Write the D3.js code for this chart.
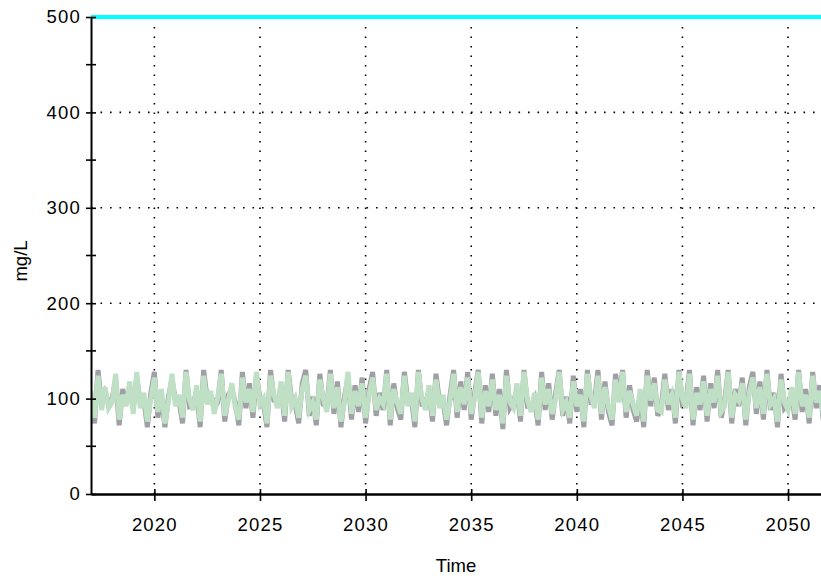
<!DOCTYPE html>
<html>
<head>
<meta charset="utf-8">
<script src="https://cdn.jsdelivr.net/npm/d3@7/dist/d3.min.js"></script>
<style>
  body { margin: 0; background: #fff; }
  text { font-family: "Liberation Sans", Arial, sans-serif; }
</style>
</head>
<body>
<div id="chart"></div>
<script>
// model output, 6 samples per year starting at 2017
var startYear = 2017,
	stepsPerYear = 6;

var greenSeries = [
	108, 80, 124, 88, 112, 90,
	96, 126, 78, 104, 92, 118,
	84, 128, 90, 106, 76, 100,
	122, 86, 110, 74, 96, 126,
	92, 104, 80, 128, 98, 88,
	114, 76, 124, 94, 108, 84,
	102, 126, 82, 98, 116, 90,
	78, 122, 96, 110, 86, 128,
	94, 100, 74, 124, 104, 90,
	118, 82, 128, 92, 100, 80,
	110, 124, 88, 96, 78, 120,
	100, 86, 126, 90, 112, 76,
	96, 128, 84, 108, 92, 116,
	80, 104, 122, 88, 100, 94,
	126, 78, 110, 96, 84, 124,
	92, 106, 76, 128, 100, 88,
	114, 82, 120, 90, 104, 78,
	98, 126, 86, 112, 94, 122,
	84, 100, 128, 80, 108, 92,
	120, 88, 104, 74, 124, 96,
	90, 116, 82, 128, 98, 86,
	106, 78, 122, 94, 110, 84,
	100, 128, 88, 96, 80, 118,
	92, 104, 76, 126, 102, 90,
	124, 84, 112, 92, 78, 120,
	96, 128, 86, 108, 94, 82,
	110, 76, 124, 98, 116, 88,
	86, 120, 94, 104, 80, 128,
	100, 90, 126, 78, 106, 94,
	118, 82, 110, 96, 124, 86,
	92, 128, 80, 104, 98, 116,
	78, 106, 122, 90, 112, 84,
	126, 94, 100, 76, 120, 96,
	88, 112, 84, 128, 92, 104,
	80, 124, 96, 108, 84, 72
];

var graySeries = [
	104, 74, 130, 94, 106, 96,
	100, 120, 72, 110, 96, 112,
	90, 122, 96, 100, 70, 106,
	128, 80, 104, 70, 102, 120,
	98, 98, 74, 130, 92, 94,
	108, 70, 130, 100, 102, 90,
	96, 130, 76, 104, 110, 96,
	72, 128, 90, 116, 80, 124,
	100, 94, 70, 130, 98, 96,
	112, 76, 130, 98, 94, 74,
	116, 130, 82, 102, 72, 126,
	94, 92, 130, 84, 118, 70,
	102, 122, 78, 114, 86, 122,
	74, 110, 128, 82, 106, 88,
	130, 72, 116, 90, 78, 128,
	98, 100, 70, 130, 94, 94,
	108, 76, 126, 96, 98, 72,
	104, 130, 80, 118, 88, 128,
	78, 106, 130, 74, 114, 86,
	126, 82, 110, 68, 130, 90,
	96, 110, 76, 130, 92, 92,
	100, 72, 128, 88, 116, 78,
	106, 130, 82, 102, 74, 124,
	86, 110, 70, 130, 96, 96,
	130, 78, 118, 86, 72, 126,
	102, 130, 80, 114, 88, 76,
	104, 70, 130, 92, 122, 82,
	92, 126, 88, 110, 74, 130,
	94, 96, 130, 72, 112, 88,
	124, 76, 116, 90, 130, 80,
	98, 130, 74, 110, 92, 122,
	72, 112, 128, 84, 118, 78,
	130, 88, 106, 70, 126, 90,
	94, 106, 78, 130, 86, 110,
	74, 128, 90, 114, 78, 70
];

var limitValue = 500;

var xTicks = [2020, 2025, 2030, 2035, 2040, 2045, 2050],
	yTicks = [0, 100, 200, 300, 400, 500],
	yMinorTicks = [50, 150, 250, 350, 450];

var width = 821,
	height = 578,
	margin = {top: 17, right: 0, bottom: 84, left: 91};

var svg = d3.select("#chart").append("svg")
	.attr("width", width)
	.attr("height", height);

var x = d3.scaleLinear()
		.domain([2017, 2051.56])
		.range([margin.left, width - margin.right]),
	y = d3.scaleLinear()
		.domain([0, 500])
		.range([height - margin.bottom, margin.top]);

svg.append("clipPath").attr("id", "plot")
	.append("rect")
	.attr("x", margin.left)
	.attr("y", 0)
	.attr("width", width - margin.left - margin.right)
	.attr("height", height - margin.bottom);

// dotted grid
svg.append("g").selectAll("line")
	.data(xTicks)
	.enter().append("line")
		.attr("x1", function(d) {return x(d);})
		.attr("x2", function(d) {return x(d);})
		.attr("y1", y(0))
		.attr("y2", y(500))
		.attr("stroke", "#000")
		.attr("stroke-width", 1.6)
		.attr("stroke-dasharray", "1.6,7.9");

svg.append("g").selectAll("line")
	.data(yTicks.filter(function(d) {return d > 0 && d < 500;}))
	.enter().append("line")
		.attr("x1", x.range()[0])
		.attr("x2", x.range()[1])
		.attr("y1", function(d) {return y(d);})
		.attr("y2", function(d) {return y(d);})
		.attr("stroke", "#000")
		.attr("stroke-width", 1.6)
		.attr("stroke-dasharray", "1.6,7.9");

function toPoints(values) {
	return values.map(function(v, i) {
		return {t: startYear + i / stepsPerYear, v: v};
	});
}

var line = d3.line()
	.x(function(d) {return x(d.t);})
	.y(function(d) {return y(d.v);});

var plot = svg.append("g").attr("clip-path", "url(#plot)");

plot.append("path")
	.datum(toPoints(graySeries))
	.attr("d", line)
	.attr("fill", "none")
	.attr("stroke", "#a09fa6")
	.attr("stroke-width", 5)
	.attr("stroke-linejoin", "miter");

plot.append("path")
	.datum(toPoints(greenSeries))
	.attr("d", line)
	.attr("fill", "none")
	.attr("stroke", "#bfe0c5")
	.attr("stroke-width", 5)
	.attr("stroke-linejoin", "miter");

plot.append("line")
	.attr("x1", x.range()[0])
	.attr("x2", x.range()[1])
	.attr("y1", y(limitValue))
	.attr("y2", y(limitValue))
	.attr("stroke", "#00ffff")
	.attr("stroke-width", 4);

// axes
var yAxis = svg.append("g")
	.attr("transform", "translate(" + margin.left + ",0)")
	.call(d3.axisLeft(y).tickValues(yTicks).tickSize(0).tickPadding(10));

yAxis.select(".domain").attr("stroke-width", 2);
yAxis.selectAll(".tick text")
	.style("font-size", "18.5px")
	.attr("letter-spacing", "1.2px")
	.attr("fill", "#000");
yAxis.selectAll(".tick line")
	.attr("x1", -5)
	.attr("x2", 5)
	.attr("stroke-width", 1.6);

yAxis.selectAll(".minor")
	.data(yMinorTicks)
	.enter().append("line")
		.attr("class", "minor")
		.attr("x1", -5)
		.attr("x2", 5)
		.attr("y1", function(d) {return y(d);})
		.attr("y2", function(d) {return y(d);})
		.attr("stroke", "#000")
		.attr("stroke-width", 1.6);

var xAxis = svg.append("g")
	.attr("transform", "translate(0," + y(0) + ")")
	.call(d3.axisBottom(x).tickValues(xTicks).tickFormat(d3.format("d")).tickSize(0).tickPadding(24));

xAxis.select(".domain").attr("stroke-width", 2.4);
xAxis.selectAll(".tick text")
	.style("font-size", "18.5px")
	.attr("letter-spacing", "1.2px")
	.attr("fill", "#000");
xAxis.selectAll(".tick line")
	.attr("y1", -5)
	.attr("y2", 7)
	.attr("stroke-width", 1.6);

// axis titles
svg.append("text")
	.attr("x", 456)
	.attr("y", 572)
	.attr("text-anchor", "middle")
	.style("font-size", "18.5px")
	.text("Time");

svg.append("text")
	.attr("transform", "translate(27,261) rotate(-90)")
	.attr("text-anchor", "middle")
	.style("font-size", "18.5px")
	.text("mg/L");
</script>
</body>
</html>
